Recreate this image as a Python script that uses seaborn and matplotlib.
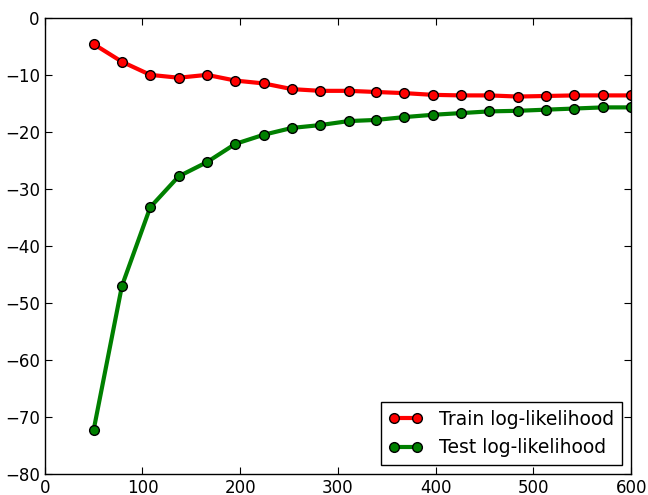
import pandas as pd
import matplotlib
matplotlib.use('Agg')
import matplotlib.pyplot as plt
import seaborn as sns

# Training set sizes
sizes = [50, 79, 108, 137, 166, 195, 224, 253, 282, 311,
         339, 368, 397, 426, 455, 484, 513, 542, 571, 600]

train_ll = [-4.6, -7.7, -10.0, -10.5, -10.0, -11.0, -11.5, -12.5, -12.8, -12.8,
            -13.0, -13.2, -13.5, -13.6, -13.6, -13.8, -13.7, -13.6, -13.6, -13.6]
test_ll = [-72.3, -47.0, -33.2, -27.8, -25.3, -22.1, -20.5, -19.3, -18.8, -18.1,
           -17.9, -17.4, -17.0, -16.7, -16.4, -16.3, -16.1, -15.9, -15.7, -15.7]

labels = ['Train log-likelihood', 'Test log-likelihood']
colors = ['red', 'green']

df = pd.DataFrame({
    'size': sizes * 2,
    'll': train_ll + test_ll,
    'series': [labels[0]] * len(sizes) + [labels[1]] * len(sizes),
})

sns.set_style('ticks')
plt.rcParams['font.family'] = ['DejaVu Sans']
plt.rcParams['text.color'] = 'black'

fig = plt.figure(figsize=(6.48, 4.95), dpi=100)
ax = fig.add_axes([0.069, 0.042, 0.905, 0.922])

sns.lineplot(data=df, x='size', y='ll', hue='series', palette=colors,
             marker='o', markersize=7, markeredgecolor='black', markeredgewidth=1,
             linewidth=3, ax=ax)

ax.set_xlim(0, 600)
ax.set_ylim(-80, 0)
ax.set_xlabel('')
ax.set_ylabel('')
ax.tick_params(direction='in', top=True, right=True, length=5, labelsize=12, colors='black')
for s in ax.spines.values():
    s.set_color('black')
    s.set_linewidth(1)

leg = ax.legend(loc='lower right', fontsize=13.5, fancybox=False, framealpha=1,
                edgecolor='black', borderaxespad=0.5, numpoints=2,
                handlelength=1.8, handletextpad=0.9)
leg.get_frame().set_linewidth(1)
for t in leg.get_texts():
    t.set_color('black')

fig.savefig('out.png', dpi=100)
